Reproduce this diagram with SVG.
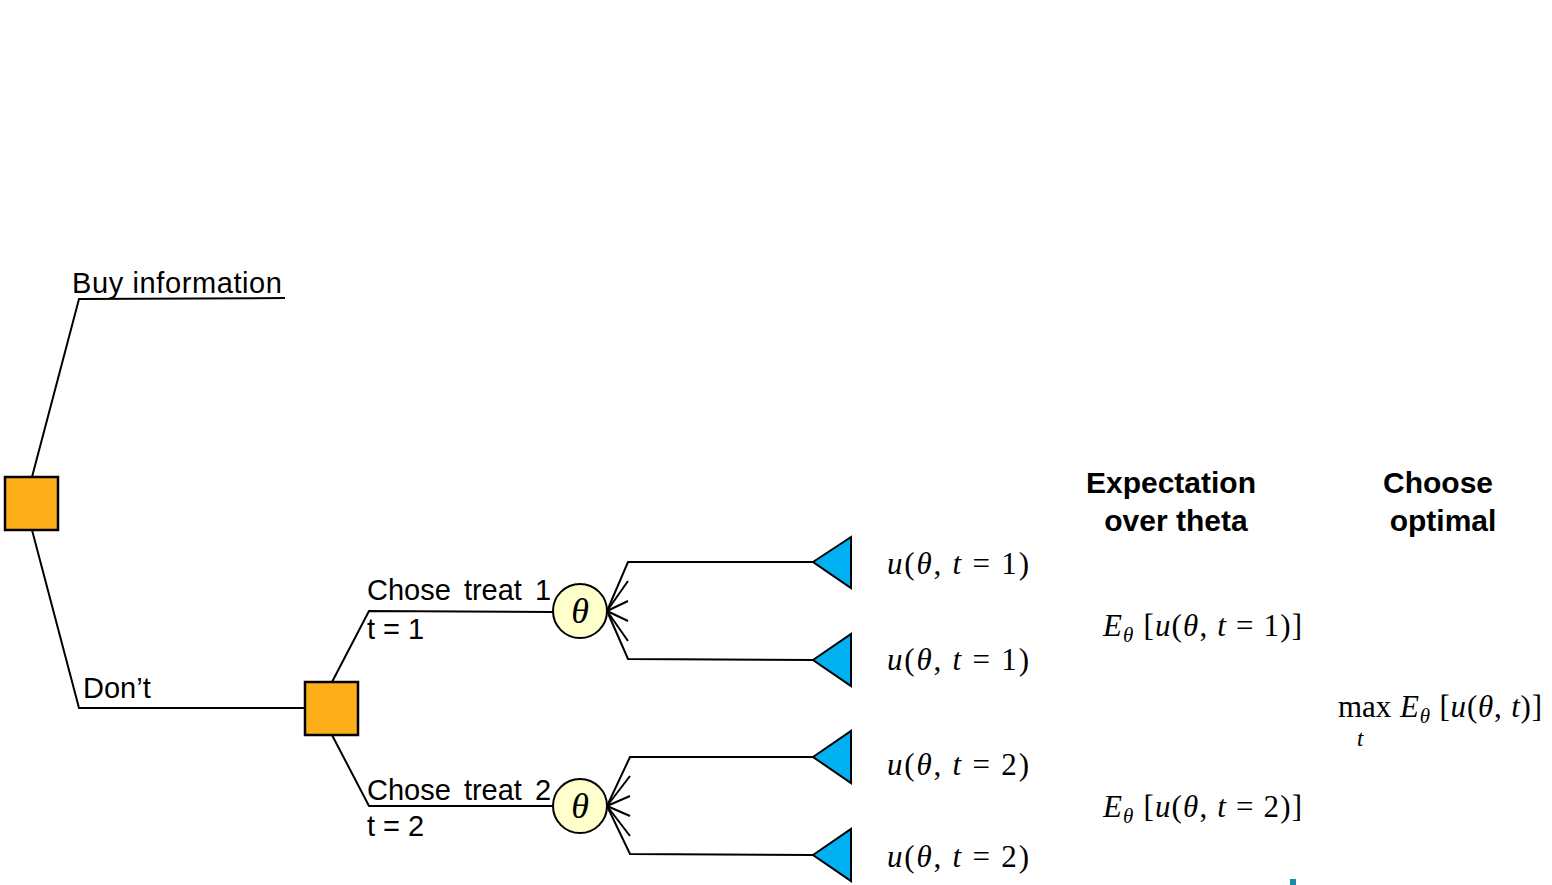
<svg xmlns="http://www.w3.org/2000/svg" width="1552" height="885" viewBox="0 0 1552 885">
<style>
.ln{fill:none;stroke:#000;stroke-width:2}
.dec{fill:#FDAF1A;stroke:#000;stroke-width:2.5}
.ch{fill:#FFFFCC;stroke:#000;stroke-width:2}
.end{fill:#00B0F0;stroke:#000;stroke-width:2}
.lb{font-family:"Liberation Sans",Arial,sans-serif;font-size:29px;fill:#000}
.ws{word-spacing:5px}
.hd{font-family:"Liberation Sans",Arial,sans-serif;font-size:30px;font-weight:bold;fill:#000;text-anchor:middle}
.m{font-family:"Liberation Serif","DejaVu Serif",serif;font-size:31px;fill:#000}
.i{font-style:italic}
.th{font-family:"Liberation Serif","DejaVu Serif",serif;font-size:36px;font-style:italic;text-anchor:middle;fill:#000}
</style>
<rect width="1552" height="885" fill="#fff"/>
<g id="connectors">
<polyline class="ln" points="32,477 79,299 285,298"/>
<polyline class="ln" points="32,530 79,708 305,708"/>
<polyline class="ln" points="332,682 369,611 553,612"/>
<polyline class="ln" points="332,735 369,806 553,806"/>
<polyline class="ln" points="607,611 628,562 813,562"/>
<polyline class="ln" points="607,611 628,659 813,660"/>
<line class="ln" x1="607" y1="611" x2="628" y2="581"/>
<line class="ln" x1="607" y1="611" x2="628" y2="601"/>
<line class="ln" x1="607" y1="611" x2="628" y2="621"/>
<line class="ln" x1="607" y1="611" x2="628" y2="641"/>
<polyline class="ln" points="607,806 630,757 813,757"/>
<polyline class="ln" points="607,806 630,854 813,855"/>
<line class="ln" x1="607" y1="806" x2="630" y2="776"/>
<line class="ln" x1="607" y1="806" x2="630" y2="796"/>
<line class="ln" x1="607" y1="806" x2="630" y2="816"/>
<line class="ln" x1="607" y1="806" x2="630" y2="836"/>
</g>
<g id="root-decision"><rect class="dec" x="5" y="477" width="53" height="53"/></g>
<g id="label-buy"><text class="lb" x="72" y="293" font-size="30" textLength="210" lengthAdjust="spacing">Buy information</text></g>
<g id="label-dont"><text class="lb" x="83" y="698">Don’t</text></g>
<g id="treat-decision"><rect class="dec" x="305" y="682" width="53" height="53"/></g>
<g id="label-t1"><text class="lb ws" x="367" y="600">Chose treat 1</text><text class="lb" x="367" y="639">t = 1</text></g>
<g id="label-t2"><text class="lb ws" x="367" y="800">Chose treat 2</text><text class="lb" x="367" y="836">t = 2</text></g>
<g id="chance-1"><circle class="ch" cx="580" cy="611" r="27"/><text class="th" x="580" y="623">θ</text></g>
<g id="chance-2"><circle class="ch" cx="580" cy="806" r="27"/><text class="th" x="580" y="818">θ</text></g>
<g id="end-1"><polygon class="end" points="813,562 851,537 851,588"/></g>
<g id="end-2"><polygon class="end" points="813,660 851,634 851,686"/></g>
<g id="end-3"><polygon class="end" points="813,757 851,731 851,783"/></g>
<g id="end-4"><polygon class="end" points="813,855 851,829 851,881"/></g>
<g id="u1"><text class="m" x="887" y="574" textLength="142" lengthAdjust="spacing"><tspan class="i">u</tspan>(<tspan class="i">θ</tspan>, <tspan class="i">t</tspan> = 1)</text></g>
<g id="u2"><text class="m" x="887" y="670" textLength="142" lengthAdjust="spacing"><tspan class="i">u</tspan>(<tspan class="i">θ</tspan>, <tspan class="i">t</tspan> = 1)</text></g>
<g id="u3"><text class="m" x="887" y="775" textLength="142" lengthAdjust="spacing"><tspan class="i">u</tspan>(<tspan class="i">θ</tspan>, <tspan class="i">t</tspan> = 2)</text></g>
<g id="u4"><text class="m" x="887" y="867" textLength="142" lengthAdjust="spacing"><tspan class="i">u</tspan>(<tspan class="i">θ</tspan>, <tspan class="i">t</tspan> = 2)</text></g>
<g id="hdr-exp"><text class="hd" x="1171" y="493">Expectation</text><text class="hd" x="1176" y="531">over theta</text></g>
<g id="hdr-opt"><text class="hd" x="1438" y="493">Choose</text><text class="hd" x="1443" y="531">optimal</text></g>
<g id="e1"><text class="m" x="1103" y="636" textLength="199" lengthAdjust="spacing"><tspan class="i">E</tspan><tspan class="i" font-size="21" dy="6">θ</tspan><tspan dy="-6"> [</tspan><tspan class="i">u</tspan>(<tspan class="i">θ</tspan>, <tspan class="i">t</tspan> = 1)]</text></g>
<g id="e2"><text class="m" x="1103" y="817" textLength="199" lengthAdjust="spacing"><tspan class="i">E</tspan><tspan class="i" font-size="21" dy="6">θ</tspan><tspan dy="-6"> [</tspan><tspan class="i">u</tspan>(<tspan class="i">θ</tspan>, <tspan class="i">t</tspan> = 2)]</text></g>
<g id="maxE"><text class="m"><tspan x="1338" y="717">max</tspan><tspan class="i" x="1357" y="746" style="font-size:23px">t</tspan><tspan x="1400" y="717" letter-spacing="0.8"><tspan class="i">E</tspan><tspan class="i" style="font-size:21px" dy="6">θ</tspan><tspan dy="-6"> [</tspan><tspan class="i">u</tspan>(<tspan class="i">θ</tspan>, <tspan class="i">t</tspan>)]</tspan></text></g>
<rect x="1290" y="879" width="6" height="6" fill="#1A8AA8"/>
</svg>
